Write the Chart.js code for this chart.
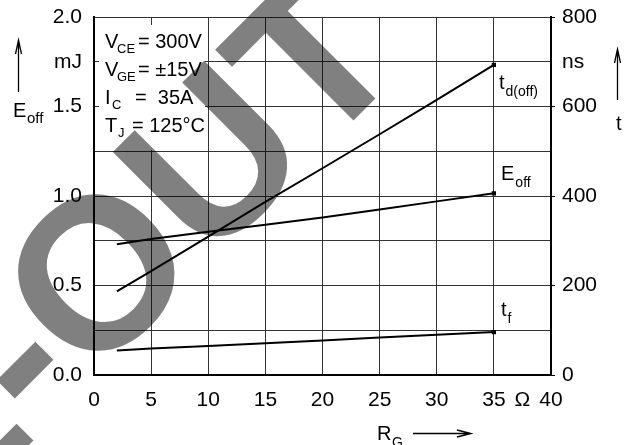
<!DOCTYPE html>
<html><head><meta charset="utf-8">
<script src="https://cdn.jsdelivr.net/npm/chart.js@4"></script>
<style>html,body{margin:0;padding:0;background:#fff;} canvas{display:block;}</style>
</head><body>
<canvas id="c" width="625" height="445"></canvas>
<script>
// ---- data ----
const rg = [2, 5, 10, 15, 20, 25, 30, 35];                 // R_G in Ohm
const eOff = [0.73, 0.76, 0.80, 0.84, 0.88, 0.925, 0.97, 1.015]; // mJ
const tdOff = [187, 232, 309, 387, 462, 538, 615, 693];    // ns
const tf = [55, 59, 65, 71, 77, 84, 90, 96];               // ns
const xTickLabels = ['0','','5','','10','','15','','20','','25','','30','','35','Ω','40'];
const yLeftTickLabels = ['0.0','','0.5','','1.0','','1.5','mJ','2.0'];
const yRightTickLabels = ['0','','200','','400','','600','ns','800'];
const conditions = [
  ['V','CE','= 300V'],
  ['V','GE','= ±15V'],
  ['I','C','=  35A'],
  ['T','J','= 125°C']
];
const seriesLabels = [['t','d(off)'],['E','off'],['t','f']];
const watermarkText = ['E-', 'OUT'];

const FONT = '"Liberation Sans", Arial, sans-serif';
const GRID = '#333';
const pts = (xs, ys) => xs.map((x, i) => ({x, y: ys[i]}));
const lastPt = (n) => (ctx) => ctx.dataIndex === n - 1 ? 1.6 : 0;

const decor = {
  id: 'decor',
  beforeDatasetsDraw(chart) {
    const c = chart.ctx;
    c.save();
    c.fillStyle = '#fff';
    c.fillRect(99, 25, 106, 125);
    c.restore();
  },
  afterDraw(chart) {
    const c = chart.ctx;
    c.save();
    c.fillStyle = '#000';
    c.textBaseline = 'alphabetic';
    c.textAlign = 'left';
    const big = '20px ' + FONT, small = '13px ' + FONT;
    // conditions
    const subX = [117, 117, 112, 118];
    const eqX = [138, 138, 135, 132];
    conditions.forEach((row, i) => {
      const base = 48 + i * 28;
      c.font = big; c.fillText(row[0], 105, base);
      c.font = small; c.fillText(row[1], subX[i], base + 5);
      c.font = big; c.fillText(row[2], eqX[i], base);
    });
    // series labels
    const lp = [[499, 89], [501, 180], [501, 316]];
    seriesLabels.forEach((s, i) => {
      c.font = big; c.fillText(s[0], lp[i][0], lp[i][1]);
      const w = c.measureText(s[0]).width;
      c.font = '14px ' + FONT; c.fillText(s[1], lp[i][0] + w + 1, lp[i][1] + 7);
    });
    // axis titles
    c.font = big; c.fillText('E', 13, 117);
    c.font = '15px ' + FONT; c.fillText('off', 27, 123);
    c.font = big; c.fillText('t', 616, 130);
    c.font = big; c.fillText('R', 377, 440);
    c.font = '14px ' + FONT; c.fillText('G', 392, 447);
    // arrows
    c.strokeStyle = '#000'; c.lineWidth = 1.3;
    c.beginPath();
    c.moveTo(18.5, 92); c.lineTo(18.5, 40);
    c.moveTo(15.5, 54); c.lineTo(18.5, 40); c.lineTo(21.5, 54);
    c.moveTo(617.5, 100); c.lineTo(617.5, 49);
    c.moveTo(614.5, 63); c.lineTo(617.5, 49); c.lineTo(620.5, 63);
    c.moveTo(413, 433.5); c.lineTo(471, 433.5);
    c.moveTo(457, 430); c.lineTo(471, 433.5); c.lineTo(457, 437);
    c.stroke();
    // watermark
    c.globalCompositeOperation = 'multiply';
    c.fillStyle = '#808080';
    c.translate(90, 384);
    c.rotate(-Math.PI / 4);
    c.font = 'bold 215px ' + FONT;
    c.textAlign = 'left'; c.fillText(watermarkText[1], 0, 0);
    c.textAlign = 'right'; c.fillText(watermarkText[0], 0, 0);
    c.restore();
  }
};

const lineDs = (data, axis, n) => ({
  data, yAxisID: axis, borderColor: '#000', backgroundColor: '#000', borderWidth: 2,
  pointRadius: lastPt(n), pointStyle: 'rect', pointHoverRadius: 0, tension: 0, fill: false
});

const fitV = (w) => (s) => { s.width = w; s.paddingTop = 0; s.paddingBottom = 0; };

new Chart(document.getElementById('c'), {
  type: 'line',
  data: {
    datasets: [
      lineDs(pts(rg, eOff), 'y', rg.length),
      lineDs(pts(rg, tdOff), 'y1', rg.length),
      lineDs(pts(rg, tf), 'y1', rg.length)
    ]
  },
  options: {
    responsive: false,
    animation: false,
    devicePixelRatio: 1,
    layout: { padding: { top: 17, left: 0, right: 0, bottom: 0 } },
    plugins: { legend: { display: false }, tooltip: { enabled: false } },
    scales: {
      x: {
        type: 'linear', min: 0, max: 40,
        afterFit: (s) => { s.height = 70; s.paddingLeft = 0; s.paddingRight = 0; },
        ticks: { stepSize: 2.5, autoSkip: false, maxRotation: 0, padding: 13, color: '#000',
          font: { family: FONT, size: 21 },
          callback: (v, i) => xTickLabels[i] },
        grid: { drawTicks: false, lineWidth: 1,
          color: (ctx) => (ctx.tick && ctx.tick.value % 5 === 0) ? GRID : 'rgba(0,0,0,0)' },
        border: { color: '#000', width: 2 }
      },
      y: {
        type: 'linear', position: 'left', min: 0, max: 2,
        afterFit: fitV(94),
        ticks: { stepSize: 0.25, autoSkip: false, padding: 12, color: '#000',
          font: { family: FONT, size: 21 },
          callback: (v, i) => yLeftTickLabels[i] },
        grid: { drawTicks: false, color: GRID, lineWidth: 1 },
        border: { color: '#000', width: 2 }
      },
      y1: {
        type: 'linear', position: 'right', min: 0, max: 800,
        afterFit: fitV(74),
        ticks: { stepSize: 100, autoSkip: false, padding: 7, color: '#000',
          font: { family: FONT, size: 21 },
          callback: (v, i) => yRightTickLabels[i] },
        grid: { drawOnChartArea: false, drawTicks: true, tickLength: 4,
          color: (ctx) => (ctx.tick && ctx.tick.value % 200 === 0) ? '#000' : 'rgba(0,0,0,0)' },
        border: { color: '#000', width: 2 }
      }
    }
  },
  plugins: [decor]
});
</script>
</body></html>
